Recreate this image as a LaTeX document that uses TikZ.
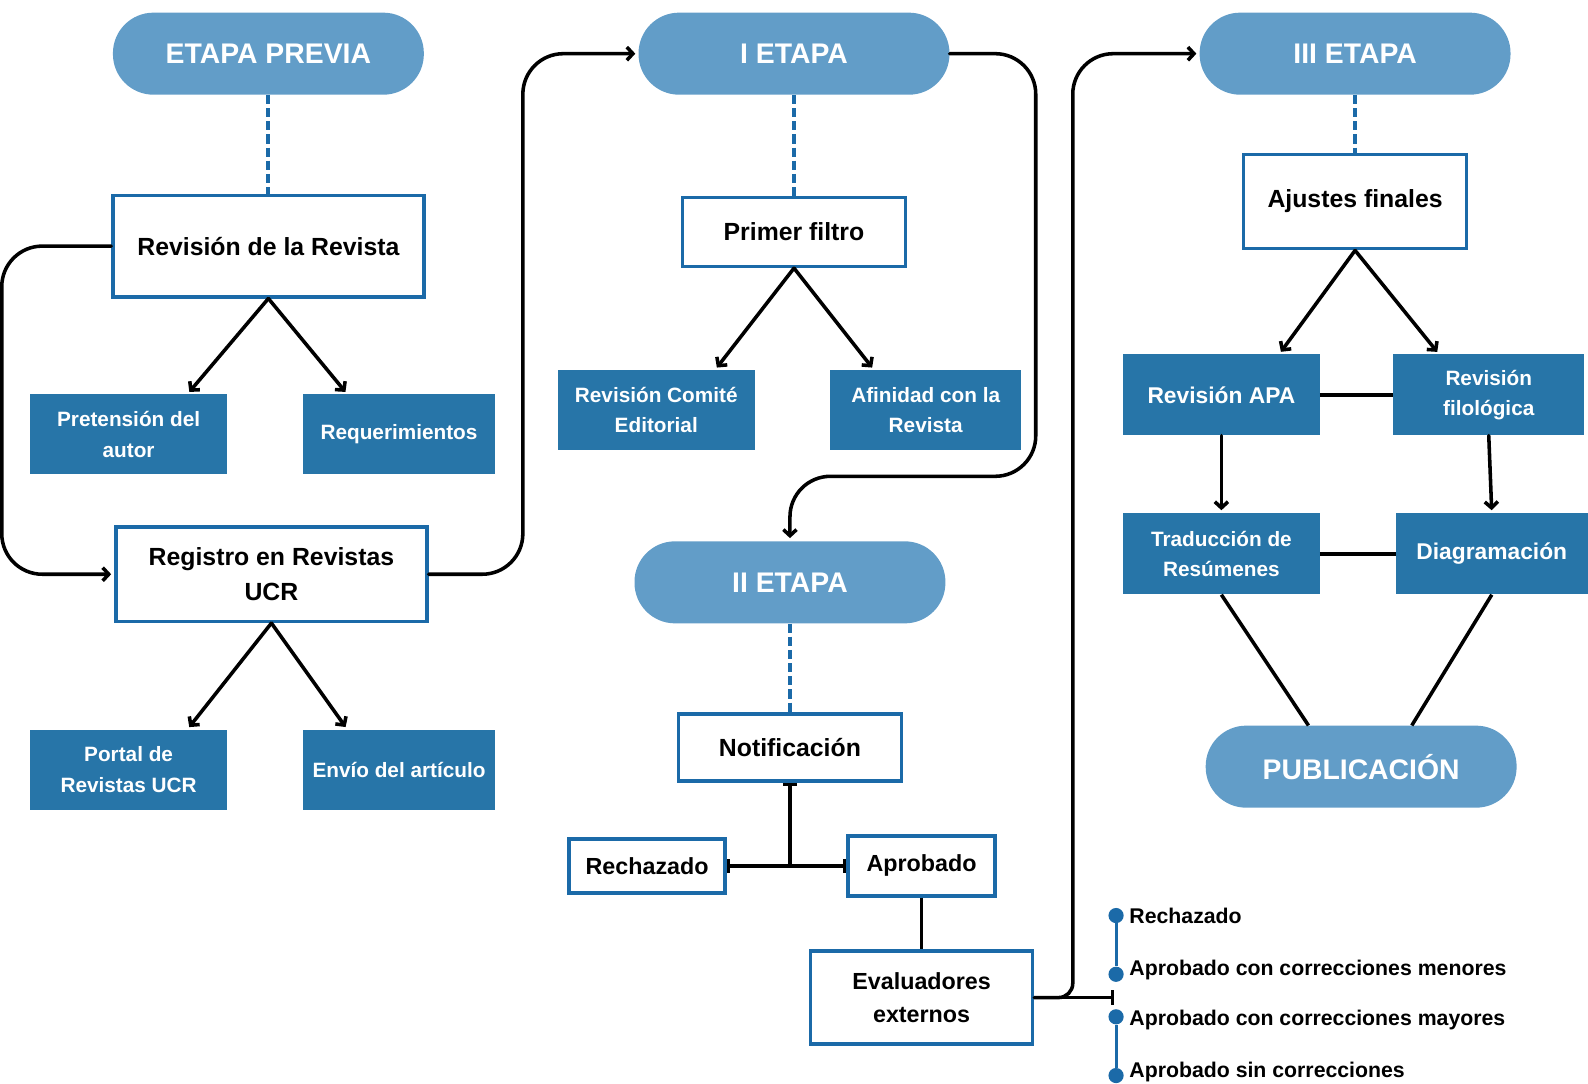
\documentclass[tikz,border=0pt]{standalone}
\usepackage{fontspec}
\setmainfont{Liberation Sans}
\usetikzlibrary{arrows.meta,positioning,calc}
\definecolor{pill}{HTML}{629DC8}
\definecolor{caja}{HTML}{2775A8}
\definecolor{borde}{HTML}{1B6AA8}

\begin{document}
\begin{tikzpicture}[
  x=1pt, y=-1pt,
  etapa/.style={fill=pill, rounded corners=40pt, minimum width=307pt, minimum height=81pt, text=white, font=\fontsize{28}{32}\selectfont\bfseries},
  paso/.style={draw=borde, line width=3.5pt, fill=white, align=center, inner sep=0pt, font=\fontsize{24.5}{35}\selectfont\bfseries},
  pasochico/.style={paso, font=\fontsize{23}{32}\selectfont\bfseries},
  tarea/.style={fill=caja, text=white, align=center, inner sep=0pt, minimum width=194pt, minimum height=79pt, font=\fontsize{20.5}{30}\selectfont\bfseries},
  tareagrande/.style={tarea, font=\fontsize{22.5}{30}\selectfont\bfseries},
  flecha/.style={-{Straight Barb[length=6pt,width=13pt]}, line width=3.5pt, line cap=round, shorten >=3pt},
  linea/.style={line width=3.5pt},
  guion/.style={draw=borde, line width=4pt, dash pattern=on 9pt off 4pt},
  punto/.style={circle, fill=borde, inner sep=0pt, minimum size=15pt},
  opcion/.style={anchor=west, inner sep=0pt, font=\fontsize{21}{25}\selectfont\bfseries}
]
\useasboundingbox (0,0) rectangle (1568,1070);

% etapas
\node[etapa] (previa) at (265,53) {ETAPA PREVIA};
\node[etapa] (etapa1) at (784,53) {I ETAPA};
\node[etapa] (etapa3) at (1338,53) {III ETAPA};
\node[etapa] (etapa2) at (780,575) {II ETAPA};
\node[etapa] (publ) at (1344,757) {PUBLICACIÓN};

% pasos
\node[paso, minimum width=307pt, minimum height=100pt] (revista) at (265,243) {Revisión de la Revista};
\node[paso, minimum width=307pt, minimum height=93pt] (registro) at (268,567) {Registro en Revistas\\UCR};
\node[paso, minimum width=220pt, minimum height=68pt] (filtro) at (784,229) {Primer filtro};
\node[paso, minimum width=220pt, minimum height=66pt] (notif) at (780,738) {Notificación};
\node[pasochico, minimum width=154pt, minimum height=53pt] (rechazo) at (639,855) {Rechazado};
\node[pasochico, minimum width=145pt, minimum height=59pt] (aprob) at (910,855) {Aprobado};
\node[pasochico, minimum width=219pt, minimum height=92pt] (evaluadores) at (910,985) {Evaluadores\\externos};
\node[paso, minimum width=220pt, minimum height=93pt] (ajustes) at (1338,199) {Ajustes finales};

% tareas
\node[tarea] (pretension) at (127,429) {Pretensión del\\autor};
\node[tarea, minimum width=189pt] (requisitos) at (394,429) {Requerimientos};
\node[tarea] (portal) at (127,760) {Portal de\\Revistas UCR};
\node[tarea, minimum width=189pt] (envio) at (394,760) {Envío del artículo};
\node[tarea] (comite) at (648,405) {Revisión Comité\\Editorial};
\node[tarea, minimum width=189pt] (afinidad) at (914,405) {Afinidad con la\\Revista};
\node[tareagrande, minimum height=80pt] (apa) at (1206,390) {Revisión APA};
\node[tarea, minimum width=189pt, minimum height=80pt] (filologica) at (1470,390) {Revisión\\filológica};
\node[tarea, minimum height=80pt] (traduccion) at (1206,547) {Traducción de\\Resúmenes};
\node[tareagrande, minimum width=189pt, minimum height=80pt] (diagram) at (1473,547) {Diagramación};

% lista de resultados
\node[punto] (p1) at (1102,904) {};
\node[punto] (p2) at (1102,962) {};
\node[punto] (p3) at (1102,1004) {};
\node[punto] (p4) at (1102,1062) {};
\node[opcion] (o1) at (1115,904) {Rechazado};
\node[opcion] (o2) at (1115,958) {Aprobado con correcciones menores};
\node[opcion] (o3) at (1115,1007) {Aprobado con correcciones mayores};
\node[opcion] (o4) at (1115,1058) {Aprobado sin correcciones};
\coordinate (lista) at (1100,985);

% conectores
\draw[guion] (previa) -- (revista);
\draw[guion] (etapa1) -- (filtro);
\draw[guion] (etapa3) -- (ajustes);
\draw[guion] (etapa2) -- (notif);

\draw[flecha] (revista.south) -- ([xshift=58pt]pretension.north);
\draw[flecha] (revista.south) -- ([xshift=-51pt]requisitos.north);
\draw[flecha] (registro.south) -- ([xshift=58pt]portal.north);
\draw[flecha] (registro.south) -- ([xshift=-51pt]envio.north);
\draw[flecha] (filtro.south) -- ([xshift=58pt]comite.north);
\draw[flecha] (filtro.south) -- ([xshift=-51pt]afinidad.north);
\draw[flecha] (ajustes.south) -- ([xshift=57pt]apa.north);
\draw[flecha] (ajustes.south) -- ([xshift=-49pt]filologica.north);
\draw[flecha] (apa) -- (traduccion);
\draw[flecha] (filologica.south) -- (diagram.north);

\draw[linea] (apa) -- (filologica);
\draw[linea] (traduccion) -- (diagram);
\draw[linea] (traduccion.south) -- ([xshift=-52pt]publ.north);
\draw[linea] (diagram.south) -- ([xshift=50pt]publ.north);

\draw[flecha, rounded corners=40pt] (revista.west) -- ++(-108,0) |- (registro.west);
\draw[flecha, rounded corners=40pt] (registro.east) -- ++(93,0) |- (etapa1.west);
\draw[flecha, rounded corners=40pt] (etapa1.east) -- ++(85,0) |- ($(etapa2.north)+(0,-64)$) -- (etapa2.north);
\draw[flecha] (evaluadores.east) [rounded corners=14pt] -- ++(38,0) [rounded corners=40pt] |- (etapa3.west);

\draw[linea, {Bar[width=14pt]}-] (notif.south) -- (notif.south |- rechazo.east);
\draw[linea, {Bar[width=14pt]}-{Bar[width=14pt]}] (rechazo.east) -- (aprob.west);
\draw[linea] (aprob) -- (evaluadores);
\draw[linea, -{Bar[width=14pt]}] (evaluadores.east) -- (lista);

\draw[borde, line width=3pt] (p1) -- (p2);
\draw[borde, line width=3pt] (p3) -- (p4);
\end{tikzpicture}
\end{document}
